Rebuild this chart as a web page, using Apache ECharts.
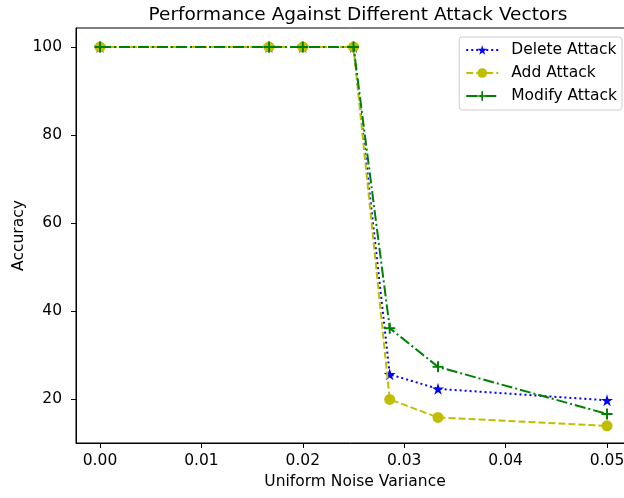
<!DOCTYPE html>
<html><head><meta charset="utf-8">
<script src="https://cdn.jsdelivr.net/npm/echarts@6/dist/echarts.min.js"></script>
<style>html,body{margin:0;padding:0;background:#fff;overflow:hidden}#c{width:624px;height:498px}</style>
</head><body><div id="c"></div>
<script>
const xValues = [0, 1/60, 0.02, 0.025, 1/35, 1/30, 0.05];
const deleteAttack = [100, 100, 100, 100, 25.6, 22.3, 19.7];
const addAttack = [100, 100, 100, 100, 19.9, 15.8, 13.9];
const modifyAttack = [100, 100, 100, 100, 36.1, 27.3, 16.6];
const xTicks = [0, 0.01, 0.02, 0.03, 0.04, 0.05];
const yTicks = [20, 40, 60, 80, 100];

const FONT = 'DejaVu Sans';
const FS = 15.5;
const star = 'path://M50,0 L61.2,34.5 L97.6,34.5 L68.2,55.9 L79.4,90.5 L50,69.1 L20.6,90.5 L31.8,55.9 L2.4,34.5 L38.8,34.5Z';
const plus = 'path://M4.1,0H5.9V4.1H10V5.9H5.9V10H4.1V5.9H0V4.1H4.1Z';
const pairs = a => xValues.map((x, i) => [x, a[i]]);

const chart = echarts.init(document.getElementById('c'), null, {renderer: 'canvas'});
chart.setOption({
  animation: false,
  title: {
    text: 'Performance Against Different Attack Vectors',
    left: 353, top: 1, textAlign: 'center',
    textStyle: {fontFamily: FONT, fontSize: 18.5, fontWeight: 'normal', color: '#000'}
  },
  grid: {left: 76, right: -10, top: 28, bottom: 55, outerBoundsMode: 'none', containLabel: false,
    show: true, borderColor: '#000', borderWidth: 1, backgroundColor: 'transparent'},
  legend: {
    orient: 'vertical', right: 2, top: 37,
    itemWidth: 32, itemHeight: 12, itemGap: 7,
    padding: [5, 5, 6, 6],
    borderColor: '#cccccc', borderWidth: 1, borderRadius: 3,
    backgroundColor: 'rgba(255,255,255,0.8)',
    textStyle: {fontFamily: FONT, fontSize: FS, color: '#000', padding: [0, 0, 0, 8]},
    data: ['Delete Attack', 'Add Attack', 'Modify Attack']
  },
  xAxis: {
    type: 'value', min: -0.002367, max: 0.05266,
    name: 'Uniform Noise Variance', nameLocation: 'middle', nameGap: 30,
    nameTextStyle: {fontFamily: FONT, fontSize: FS, color: '#000'},
    axisLine: {show: true, onZero: false, lineStyle: {color: '#000'}},
    axisTick: {show: true, length: 5, customValues: xTicks, lineStyle: {color: '#000'}},
    axisLabel: {customValues: xTicks, margin: 10, fontFamily: FONT, fontSize: FS, color: '#000',
      formatter: v => Number(v).toFixed(2)},
    splitLine: {show: false}
  },
  yAxis: {
    type: 'value', min: 10, max: 104.3,
    name: 'Accuracy', nameLocation: 'middle', nameGap: 49, nameMoveOverlap: false,
    nameTextStyle: {fontFamily: FONT, fontSize: FS, color: '#000'},
    axisLine: {show: true, onZero: false, lineStyle: {color: '#000'}},
    axisTick: {show: true, length: 5, customValues: yTicks, lineStyle: {color: '#000'}},
    axisLabel: {customValues: yTicks, margin: 14, fontFamily: FONT, fontSize: FS, color: '#000'},
    splitLine: {show: false}
  },
  series: [
    {
      name: 'Delete Attack', type: 'line', data: pairs(deleteAttack),
      symbol: star, symbolSize: 12, showAllSymbol: true,
      itemStyle: {color: '#0000ff', borderWidth: 0},
      lineStyle: {color: '#0000ff', width: 2, type: [2, 3]},
      z: 2
    },
    {
      name: 'Add Attack', type: 'line', data: pairs(addAttack),
      symbol: 'circle', symbolSize: 11, showAllSymbol: true,
      itemStyle: {color: '#bfbf00', borderWidth: 0},
      lineStyle: {color: '#bfbf00', width: 2, type: [7, 3]},
      z: 3
    },
    {
      name: 'Modify Attack', type: 'line', data: pairs(modifyAttack),
      symbol: plus, symbolSize: 11, showAllSymbol: true,
      itemStyle: {color: '#008000', borderWidth: 0},
      lineStyle: {color: '#008000', width: 2, type: [11, 3, 2, 3]},
      z: 4
    }
  ]
});
</script></body></html>
